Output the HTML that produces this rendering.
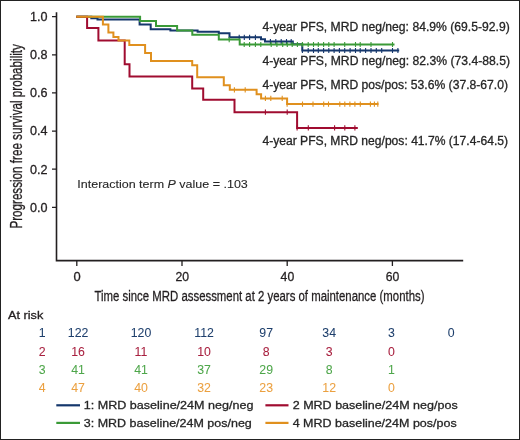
<!DOCTYPE html>
<html><head><meta charset="utf-8"><style>
html,body{margin:0;padding:0;background:#fff;}
body{width:520px;height:440px;overflow:hidden;}
.frame{position:absolute;left:0;top:0;width:518px;height:438px;border:1px solid #222;background:#fff;}
svg{position:absolute;left:0;top:0;will-change:transform;}
text{stroke-width:0.3px;font-family:"Liberation Sans",sans-serif;}
</style></head><body>
<div class="frame"></div>
<svg width="520" height="440" viewBox="0 0 520 440">
<path d="M56.5,12.2V260.6H463.2" stroke="#231f20" stroke-width="1.6" fill="none"/>
<path d="M52,207.3H56.5M52,169.2H56.5M52,131.1H56.5M52,92.9H56.5M52,54.8H56.5M52,16.7H56.5" stroke="#231f20" stroke-width="1.3" fill="none"/>
<path d="M76.8,260.6V266M182.0,260.6V266M287.2,260.6V266M392.4,260.6V266" stroke="#231f20" stroke-width="1.3" fill="none"/>
<text x="47.5" y="211.6" text-anchor="end" font-size="12.3" textLength="17.5" lengthAdjust="spacingAndGlyphs" fill="#231f20" stroke="#231f20">0.0</text>
<text x="47.5" y="173.5" text-anchor="end" font-size="12.3" textLength="17.5" lengthAdjust="spacingAndGlyphs" fill="#231f20" stroke="#231f20">0.2</text>
<text x="47.5" y="135.4" text-anchor="end" font-size="12.3" textLength="17.5" lengthAdjust="spacingAndGlyphs" fill="#231f20" stroke="#231f20">0.4</text>
<text x="47.5" y="97.2" text-anchor="end" font-size="12.3" textLength="17.5" lengthAdjust="spacingAndGlyphs" fill="#231f20" stroke="#231f20">0.6</text>
<text x="47.5" y="59.1" text-anchor="end" font-size="12.3" textLength="17.5" lengthAdjust="spacingAndGlyphs" fill="#231f20" stroke="#231f20">0.8</text>
<text x="47.5" y="21.0" text-anchor="end" font-size="12.3" textLength="17.5" lengthAdjust="spacingAndGlyphs" fill="#231f20" stroke="#231f20">1.0</text>
<text x="77.0" y="280.7" text-anchor="middle" font-size="12.8" textLength="7.2" lengthAdjust="spacingAndGlyphs" fill="#231f20" stroke="#231f20">0</text>
<text x="182.2" y="280.7" text-anchor="middle" font-size="12.8" textLength="13.6" lengthAdjust="spacingAndGlyphs" fill="#231f20" stroke="#231f20">20</text>
<text x="287.4" y="280.7" text-anchor="middle" font-size="12.8" textLength="13.6" lengthAdjust="spacingAndGlyphs" fill="#231f20" stroke="#231f20">40</text>
<text x="392.6" y="280.7" text-anchor="middle" font-size="12.8" textLength="13.6" lengthAdjust="spacingAndGlyphs" fill="#231f20" stroke="#231f20">60</text>
<text x="94.5" y="300.6" font-size="15.3" textLength="330" lengthAdjust="spacingAndGlyphs" fill="#231f20" stroke="#231f20">Time since MRD assessment at 2 years of maintenance (months)</text>
<text transform="translate(21.9,228.6) rotate(-90)" x="0" y="0" font-size="15.8" textLength="184.5" lengthAdjust="spacingAndGlyphs" fill="#231f20" stroke="#231f20">Progression free survival probability</text>
<path d="M76.3,16.8H91.3V18.3H97.5V19.5H139.6V24.5H150.7V29.3H170.4V30.6H197.6V31.8H218.8V33.3H229.5V37.3H261.0V39.3H265.0V41.4H292.8V44.2H302.3V50.5H399.2" stroke="#15376c" stroke-width="2" fill="none" stroke-linejoin="miter" stroke-linecap="butt"/>
<path d="M239.2,34.7V39.9M244.3,34.7V39.9M249.6,34.7V39.9M255.4,34.7V39.9M270.4,39.0V44.2M275.8,39.0V44.2M281.2,39.0V44.2M286.5,39.0V44.2M291.2,39.0V44.2M302.4,47.9V53.1M308.2,47.9V53.1M313.5,47.9V53.1M318.3,47.9V53.1M323.6,47.9V53.1M328.8,47.9V53.1M334.1,47.9V53.1M339.4,47.9V53.1M344.7,47.9V53.1M350.1,47.9V53.1M355.5,47.9V53.1M360.2,47.9V53.1M365.6,47.9V53.1M371.0,47.9V53.1M376.3,47.9V53.1M381.7,47.9V53.1M392.5,47.9V53.1M397.9,47.9V53.1" stroke="#15376c" stroke-width="1.1" fill="none"/>
<path d="M76.3,16.8H140.1V21.1H156.0V26.0H177.1V30.6H192.3V34.8H218.8V39.6H239.7V44.5H394.5" stroke="#3a9a37" stroke-width="2" fill="none" stroke-linejoin="miter" stroke-linecap="butt"/>
<path d="M229.2,37.0V42.2M244.2,41.9V47.1M249.6,41.9V47.1M255.4,41.9V47.1M260.8,41.9V47.1M271.2,41.9V47.1M276.9,41.9V47.1M282.7,41.9V47.1M287.3,41.9V47.1M292.2,41.9V47.1M297.4,41.9V47.1M302.4,41.9V47.1M308.2,41.9V47.1M313.5,41.9V47.1M318.3,41.9V47.1M323.6,41.9V47.1M328.8,41.9V47.1M334.1,41.9V47.1M344.7,41.9V47.1M355.5,41.9V47.1M360.2,41.9V47.1M371.0,41.9V47.1M392.5,41.9V47.1" stroke="#3a9a37" stroke-width="1.1" fill="none"/>
<path d="M76.3,16.8H87.1V27.9H98.4V40.6H124.7V64.2H129.5V76.4H192.2V88.6H203.2V99.7H234.5V112.2H297.1V127.9H357.8" stroke="#a00c30" stroke-width="2" fill="none" stroke-linejoin="miter" stroke-linecap="butt"/>
<path d="M265.4,109.6V114.8M287.2,109.6V114.8M297.1,125.3V130.5M308.3,125.3V130.5M334.6,125.3V130.5M344.8,125.3V130.5M354.9,125.3V130.5" stroke="#a00c30" stroke-width="1.1" fill="none"/>
<path d="M76.3,16.8H102.9V24.6H108.4V32.5H113.4V36.9H118.5V40.6H129.3V45.0H145.1V53.1H151.0V61.1H192.2V65.2H197.2V77.2H223.8V85.3H229.8V89.8H256.6V94.2H261.1V98.4H287.1V104.1H378.5" stroke="#e0901e" stroke-width="2" fill="none" stroke-linejoin="miter" stroke-linecap="butt"/>
<path d="M234.4,87.2V92.4M245.2,87.2V92.4M265.4,95.8V101.0M270.8,95.8V101.0M282.2,95.8V101.0M287.1,101.5V106.7M302.5,101.5V106.7M313.0,101.5V106.7M323.7,101.5V106.7M328.5,101.5V106.7M339.8,101.5V106.7M344.8,101.5V106.7M349.9,101.5V106.7M354.9,101.5V106.7M360.3,101.5V106.7M370.4,101.5V106.7M374.4,101.5V106.7M377.8,101.5V106.7" stroke="#e0901e" stroke-width="1.1" fill="none"/>
<text x="262.4" y="30.6" font-size="12" textLength="247.3" lengthAdjust="spacingAndGlyphs" fill="#262626" stroke="#262626">4-year PFS, MRD neg/neg: 84.9% (69.5-92.9)</text>
<text x="262.4" y="65.4" font-size="12" textLength="247.6" lengthAdjust="spacingAndGlyphs" fill="#262626" stroke="#262626">4-year PFS, MRD neg/neg: 82.3% (73.4-88.5)</text>
<text x="262.4" y="89.4" font-size="12" textLength="245.6" lengthAdjust="spacingAndGlyphs" fill="#262626" stroke="#262626">4-year PFS, MRD pos/pos: 53.6% (37.8-67.0)</text>
<text x="262.4" y="145.2" font-size="12" textLength="245.7" lengthAdjust="spacingAndGlyphs" fill="#262626" stroke="#262626">4-year PFS, MRD neg/pos: 41.7% (17.4-64.5)</text>
<text x="77.3" y="188.1" style="stroke-width:0.1px" font-size="11.5" textLength="170.5" lengthAdjust="spacingAndGlyphs" fill="#262626" stroke="#262626">Interaction term <tspan font-style="italic">P</tspan> value = .103</text>
<text x="8" y="319.1" font-size="11.5" textLength="35.3" lengthAdjust="spacingAndGlyphs" fill="#231f20" stroke="#231f20">At risk</text>
<text x="42.2" y="337.4" style="stroke-width:0.05px" text-anchor="middle" font-size="12.3" fill="#1e3f6c" stroke="#1e3f6c">1</text>
<text x="78.1" y="337.4" style="stroke-width:0.05px" text-anchor="middle" font-size="12.3" fill="#1e3f6c" stroke="#1e3f6c">122</text>
<text x="141.0" y="337.4" style="stroke-width:0.05px" text-anchor="middle" font-size="12.3" fill="#1e3f6c" stroke="#1e3f6c">120</text>
<text x="204.1" y="337.4" style="stroke-width:0.05px" text-anchor="middle" font-size="12.3" fill="#1e3f6c" stroke="#1e3f6c">112</text>
<text x="266.2" y="337.4" style="stroke-width:0.05px" text-anchor="middle" font-size="12.3" fill="#1e3f6c" stroke="#1e3f6c">97</text>
<text x="329.2" y="337.4" style="stroke-width:0.05px" text-anchor="middle" font-size="12.3" fill="#1e3f6c" stroke="#1e3f6c">34</text>
<text x="391.5" y="337.4" style="stroke-width:0.05px" text-anchor="middle" font-size="12.3" fill="#1e3f6c" stroke="#1e3f6c">3</text>
<text x="451.2" y="337.4" style="stroke-width:0.05px" text-anchor="middle" font-size="12.3" fill="#1e3f6c" stroke="#1e3f6c">0</text>
<text x="42.2" y="355.5" style="stroke-width:0.05px" text-anchor="middle" font-size="12.3" fill="#a8203f" stroke="#a8203f">2</text>
<text x="78.1" y="355.5" style="stroke-width:0.05px" text-anchor="middle" font-size="12.3" fill="#a8203f" stroke="#a8203f">16</text>
<text x="141.0" y="355.5" style="stroke-width:0.05px" text-anchor="middle" font-size="12.3" fill="#a8203f" stroke="#a8203f">11</text>
<text x="204.1" y="355.5" style="stroke-width:0.05px" text-anchor="middle" font-size="12.3" fill="#a8203f" stroke="#a8203f">10</text>
<text x="266.2" y="355.5" style="stroke-width:0.05px" text-anchor="middle" font-size="12.3" fill="#a8203f" stroke="#a8203f">8</text>
<text x="329.2" y="355.5" style="stroke-width:0.05px" text-anchor="middle" font-size="12.3" fill="#a8203f" stroke="#a8203f">3</text>
<text x="391.5" y="355.5" style="stroke-width:0.05px" text-anchor="middle" font-size="12.3" fill="#a8203f" stroke="#a8203f">0</text>
<text x="42.2" y="373.6" style="stroke-width:0.05px" text-anchor="middle" font-size="12.3" fill="#4ea64a" stroke="#4ea64a">3</text>
<text x="78.1" y="373.6" style="stroke-width:0.05px" text-anchor="middle" font-size="12.3" fill="#4ea64a" stroke="#4ea64a">41</text>
<text x="141.0" y="373.6" style="stroke-width:0.05px" text-anchor="middle" font-size="12.3" fill="#4ea64a" stroke="#4ea64a">41</text>
<text x="204.1" y="373.6" style="stroke-width:0.05px" text-anchor="middle" font-size="12.3" fill="#4ea64a" stroke="#4ea64a">37</text>
<text x="266.2" y="373.6" style="stroke-width:0.05px" text-anchor="middle" font-size="12.3" fill="#4ea64a" stroke="#4ea64a">29</text>
<text x="329.2" y="373.6" style="stroke-width:0.05px" text-anchor="middle" font-size="12.3" fill="#4ea64a" stroke="#4ea64a">8</text>
<text x="391.5" y="373.6" style="stroke-width:0.05px" text-anchor="middle" font-size="12.3" fill="#4ea64a" stroke="#4ea64a">1</text>
<text x="42.2" y="391.7" style="stroke-width:0.05px" text-anchor="middle" font-size="12.3" fill="#eba040" stroke="#eba040">4</text>
<text x="78.1" y="391.7" style="stroke-width:0.05px" text-anchor="middle" font-size="12.3" fill="#eba040" stroke="#eba040">47</text>
<text x="141.0" y="391.7" style="stroke-width:0.05px" text-anchor="middle" font-size="12.3" fill="#eba040" stroke="#eba040">40</text>
<text x="204.1" y="391.7" style="stroke-width:0.05px" text-anchor="middle" font-size="12.3" fill="#eba040" stroke="#eba040">32</text>
<text x="266.2" y="391.7" style="stroke-width:0.05px" text-anchor="middle" font-size="12.3" fill="#eba040" stroke="#eba040">23</text>
<text x="329.2" y="391.7" style="stroke-width:0.05px" text-anchor="middle" font-size="12.3" fill="#eba040" stroke="#eba040">12</text>
<text x="391.5" y="391.7" style="stroke-width:0.05px" text-anchor="middle" font-size="12.3" fill="#eba040" stroke="#eba040">0</text>
<path d="M56.3,405.3H80" stroke="#15376c" stroke-width="2.2"/>
<path d="M56.3,422.9H80" stroke="#3a9a37" stroke-width="2.2"/>
<path d="M265.4,405.3H288.5" stroke="#a00c30" stroke-width="2.2"/>
<path d="M265.4,422.9H288.5" stroke="#e0901e" stroke-width="2.2"/>
<text x="83.8" y="409.2" font-size="11.7" textLength="169.6" lengthAdjust="spacingAndGlyphs" fill="#262626" stroke="#262626">1: MRD baseline/24M neg/neg</text>
<text x="83.8" y="426.6" font-size="11.7" textLength="168" lengthAdjust="spacingAndGlyphs" fill="#262626" stroke="#262626">3: MRD baseline/24M pos/neg</text>
<text x="292.7" y="409.2" font-size="11.7" textLength="165" lengthAdjust="spacingAndGlyphs" fill="#262626" stroke="#262626">2 MRD baseline/24M neg/pos</text>
<text x="292.7" y="426.6" font-size="11.7" textLength="164" lengthAdjust="spacingAndGlyphs" fill="#262626" stroke="#262626">4 MRD baseline/24M pos/pos</text>
</svg>
</body></html>
